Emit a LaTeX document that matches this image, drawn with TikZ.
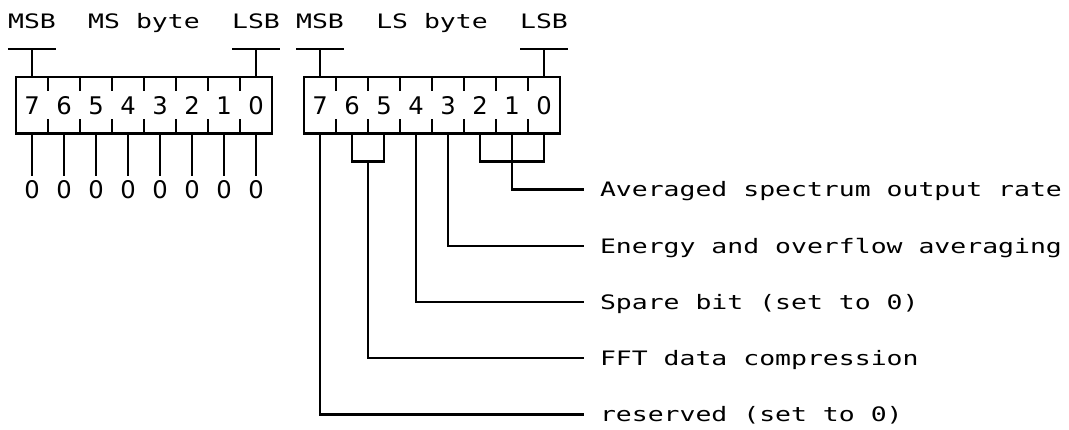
\documentclass[tikz,border=0pt]{standalone}
\usepackage{fontspec}
\usepackage{tikz}
\newfontfamily\regmonofont[FakeStretch=1.33]{DejaVu Sans Mono}
\newfontfamily\regdigitfont{DejaVu Sans}
\tikzset{
  wire/.style={line width=1.7pt},
  lbl/.style={font=\regmonofont\fontsize{14.15pt}{17pt}\selectfont,
    inner sep=0pt, text height=10.31pt, text depth=0pt},
  desc/.style={lbl, anchor=west, outer xsep=0.4cm},
  digit/.style={font=\regdigitfont\fontsize{17.27pt}{20pt}\selectfont,
    inner sep=0pt, text height=12.59pt, text depth=0pt},
  zero/.style={digit, outer ysep=3.6pt},
  regbox/.style={wire, draw, minimum width=6.4cm, minimum height=1.405cm,
    inner sep=0pt, outer sep=0pt},
}

\begin{document}
\begin{tikzpicture}[x=0.4cm, y=-0.7025cm]
          \useasboundingbox (-1,-0.749) rectangle (65.8125,14.518);
          \node [lbl] (msmsb) at (1,0) {MSB};
          \node [lbl] (msname) at (8,0) {MS byte};
          \node [lbl] (mslsb) at (15,0) {LSB};
          \node [lbl] (lsmsb) at (19,0) {MSB};
          \node [lbl] (lsname) at (26,0) {LS byte};
          \node [lbl] (lslsb) at (33,0) {LSB};
          \node [regbox] (msbox) at (8,3) {};
          \node [regbox] (lsbox) at (26,3) {};
          \foreach \b [evaluate=\b as \c using 15-2*\b] in {0,...,7} {
            \node [digit] (m\b) at (\c,3) {\b};
            \node [digit] (l\b) at (\c+18,3) {\b};
            \node [zero] (z\b) at (\c,6) {0};
            \draw [wire] (m\b |- msbox.south) -- (z\b);
          }
          \foreach \c in {2,4,...,14} {
            \draw [wire] (\c,2) -- (\c,2.5) (\c,3.5) -- (\c,4);
            \draw [wire] (\c+18,2) -- (\c+18,2.5) (\c+18,3.5) -- (\c+18,4);
          }
          \draw [wire] (-0.5,1) -- (2.5,1) (1,1) -- (m7 |- msbox.north);
          \draw [wire] (13.5,1) -- (16.5,1) (15,1) -- (m0 |- msbox.north);
          \draw [wire] (17.5,1) -- (20.5,1) (19,1) -- (l7 |- lsbox.north);
          \draw [wire] (31.5,1) -- (34.5,1) (33,1) -- (l0 |- lsbox.north);
          \node [desc] (avg) at (35.5,6) {Averaged spectrum output rate};
          \node [desc] (nrg) at (35.5,8) {Energy and overflow averaging};
          \node [desc] (spare) at (35.5,10) {Spare bit (set to 0)};
          \node [desc] (fft) at (35.5,12) {FFT data compression};
          \node [desc] (rsvd) at (35.5,14) {reserved (set to 0)};
          \draw [wire] (l7 |- lsbox.south) |- (rsvd);
          \draw [wire] (l6 |- lsbox.south) -- (21,5) -- (23,5) -- (l5 |- lsbox.south);
          \draw [wire] (22,5) |- (fft);
          \draw [wire] (l4 |- lsbox.south) |- (spare);
          \draw [wire] (l3 |- lsbox.south) |- (nrg);
          \draw [wire] (l2 |- lsbox.south) -- (29,5) -- (33,5) -- (l0 |- lsbox.south);
          \draw [wire] (l1 |- lsbox.south) |- (avg);
\end{tikzpicture}
\end{document}
